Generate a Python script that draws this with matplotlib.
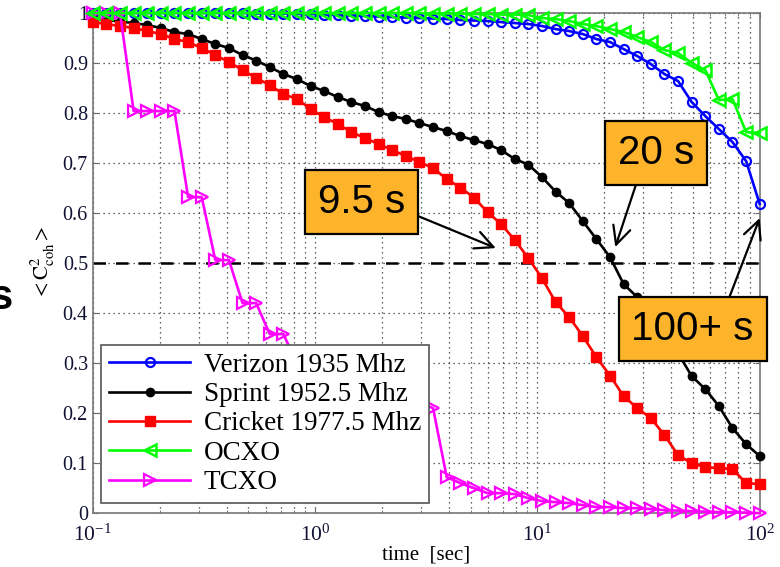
import numpy as np
import matplotlib
matplotlib.use("Agg")
import matplotlib.pyplot as plt

plt.rcParams['font.family'] = ['Liberation Serif', 'DejaVu Serif']
plt.rcParams['mathtext.fontset'] = 'stix'

# coherence averaging time sweep, 50 log-spaced points from 0.1 s to 100 s
t = np.logspace(-1, 2, 50)

verizon = [1.0, 1.0, 1.0, 1.0, 1.0, 1.0, 1.0, 1.0, 1.0, 1.0,
           1.0, 1.0, 0.999, 0.999, 0.999, 0.998, 0.998, 0.997, 0.996, 0.995,
           0.994, 0.993, 0.992, 0.991, 0.99, 0.989, 0.988, 0.986, 0.985, 0.984,
           0.982, 0.98, 0.978, 0.974, 0.968, 0.964, 0.958, 0.948, 0.942, 0.928,
           0.914, 0.898, 0.878, 0.864, 0.822, 0.794, 0.768, 0.742, 0.704, 0.618]
sprint = [0.988, 0.986, 0.983, 0.98, 0.976, 0.97, 0.962, 0.958, 0.948, 0.938,
          0.93, 0.916, 0.905, 0.892, 0.878, 0.868, 0.854, 0.844, 0.832, 0.822,
          0.814, 0.802, 0.794, 0.788, 0.78, 0.772, 0.764, 0.754, 0.746, 0.738,
          0.726, 0.708, 0.697, 0.672, 0.643, 0.62, 0.584, 0.548, 0.512, 0.458,
          0.432, 0.40, 0.365, 0.32, 0.274, 0.248, 0.214, 0.17, 0.138, 0.114]
cricket = [0.982, 0.978, 0.974, 0.97, 0.964, 0.958, 0.948, 0.942, 0.93, 0.916,
           0.902, 0.886, 0.87, 0.856, 0.838, 0.828, 0.808, 0.792, 0.778, 0.762,
           0.75, 0.738, 0.726, 0.714, 0.702, 0.69, 0.668, 0.651, 0.631, 0.602,
           0.578, 0.546, 0.51, 0.47, 0.422, 0.392, 0.354, 0.312, 0.275, 0.234,
           0.21, 0.19, 0.156, 0.116, 0.1, 0.092, 0.09, 0.088, 0.06, 0.058]
ocxo = [1.0, 1.0, 1.0, 1.0, 1.0, 1.0, 1.0, 1.0, 1.0, 1.0,
        1.0, 1.0, 1.0, 1.0, 1.0, 1.0, 1.0, 1.0, 1.0, 1.0,
        1.0, 1.0, 1.0, 1.0, 1.0, 0.999, 0.999, 0.999, 0.998, 0.998,
        0.997, 0.997, 0.996, 0.99, 0.988, 0.984, 0.978, 0.974, 0.968, 0.962,
        0.952, 0.942, 0.926, 0.92, 0.9, 0.886, 0.826, 0.828, 0.762, 0.76]
tcxo = [1.0, 1.0, 1.0, 0.804, 0.804, 0.804, 0.804, 0.632, 0.632, 0.506,
        0.506, 0.42, 0.42, 0.358, 0.358, 0.30, 0.30, 0.27, 0.27, 0.25,
        0.25, 0.23, 0.23, 0.22, 0.22, 0.21, 0.072, 0.06, 0.05, 0.04,
        0.04, 0.038, 0.03, 0.024, 0.022, 0.02, 0.016, 0.012, 0.012, 0.01,
        0.01, 0.008, 0.006, 0.005, 0.004, 0.003, 0.002, 0.002, 0.001, 0.0]

labels = ["Verizon 1935 Mhz", "Sprint 1952.5 Mhz", "Cricket 1977.5 Mhz", "OCXO", "TCXO"]

fig = plt.figure(figsize=(7.8, 5.67), dpi=100)
ax = fig.add_axes([0.119, 0.095, 0.855, 0.882])

lw = 1.9
ax.plot(t, verizon, '-o', color='#0000ff', lw=lw, ms=6.5, mfc='none', mew=1.6, label=labels[0], zorder=3, clip_on=False)
ax.plot(t, sprint, '-o', color='black', lw=lw, ms=6, label=labels[1], zorder=3, clip_on=False)
ax.plot(t, cricket, '-s', color='#ff0000', lw=lw, ms=7, label=labels[2], zorder=3, clip_on=False)
ax.plot(t, ocxo, '-<', color='#00ff00', lw=lw, ms=9, mfc='none', mew=1.8, label=labels[3], zorder=4, clip_on=False)
ax.plot(t, tcxo, '->', color='#ff00ff', lw=lw, ms=9, mfc='none', mew=1.6, label=labels[4], zorder=3, clip_on=False)

ax.axhline(0.5, color='black', ls='--', lw=1.8, dashes=(5, 4), zorder=2)

ax.set_xscale('log')
ax.set_xlim(0.1, 100)
ax.set_ylim(0, 1)
ax.set_yticks(np.arange(0, 1.01, 0.1))
ax.set_yticklabels(['0', '0.1', '0.2', '0.3', '0.4', '0.5', '0.6', '0.7', '0.8', '0.9', '1'])
ax.grid(True, which='major', ls=(0, (1, 3)), color='#333333', lw=0.9)
ax.grid(True, which='minor', axis='x', ls=(0, (1, 3)), color='#333333', lw=0.9)
ax.tick_params(which='both', direction='in', top=True, right=True, labelsize=14.5,
               colors='#666666', labelcolor='#111133')
ax.tick_params(axis='x', pad=8, labelsize=15.5)
for s in ax.spines.values():
    s.set_color('#777777')
    s.set_linewidth(1.2)

ax.set_xlabel('time  [sec]', fontsize=15, labelpad=0)
ax.set_ylabel(r'$<\mathrm{C}^2_{\mathrm{coh}}>$', fontsize=15, labelpad=4)

leg = ax.legend(loc='lower left', bbox_to_anchor=(0.012, 0.02), borderaxespad=0, fontsize=19.5,
                handlelength=3.0, labelspacing=0.16, borderpad=0.3, handletextpad=0.5,
                fancybox=False, framealpha=1, edgecolor='#555555')
leg.get_frame().set_linewidth(1.2)
leg.set_zorder(6)

box = dict(boxstyle='square,pad=0.32', fc='#fdb32a', ec='black', lw=1.6)


def arrow(rel):
    return dict(arrowstyle='->,head_length=0.45,head_width=0.22', color='black', lw=1.6,
                shrinkA=0, shrinkB=0, relpos=rel)


ax.annotate('9.5 s', xy=(6.5, 0.53), xytext=(1.62, 0.622), fontsize=29, family='Liberation Sans',
            ha='center', va='center', bbox=box, arrowprops=arrow((1.0, 0.27)), zorder=7)
ax.annotate('20 s', xy=(22.4, 0.532), xytext=(34.2, 0.72), fontsize=29, family='Liberation Sans',
            ha='center', va='center', bbox=box, arrowprops=arrow((0.29, 0.0)), zorder=7)
ax.annotate('100+ s', xy=(100, 0.59), xytext=(49.9, 0.368), fontsize=29, family='Liberation Sans',
            ha='center', va='center', bbox=box, arrowprops=arrow((0.76, 1.0)), zorder=7)

fig.text(-0.014, 0.455, 's', fontsize=30, fontweight='bold', family='Liberation Sans')

fig.savefig('out.png', dpi=100)
